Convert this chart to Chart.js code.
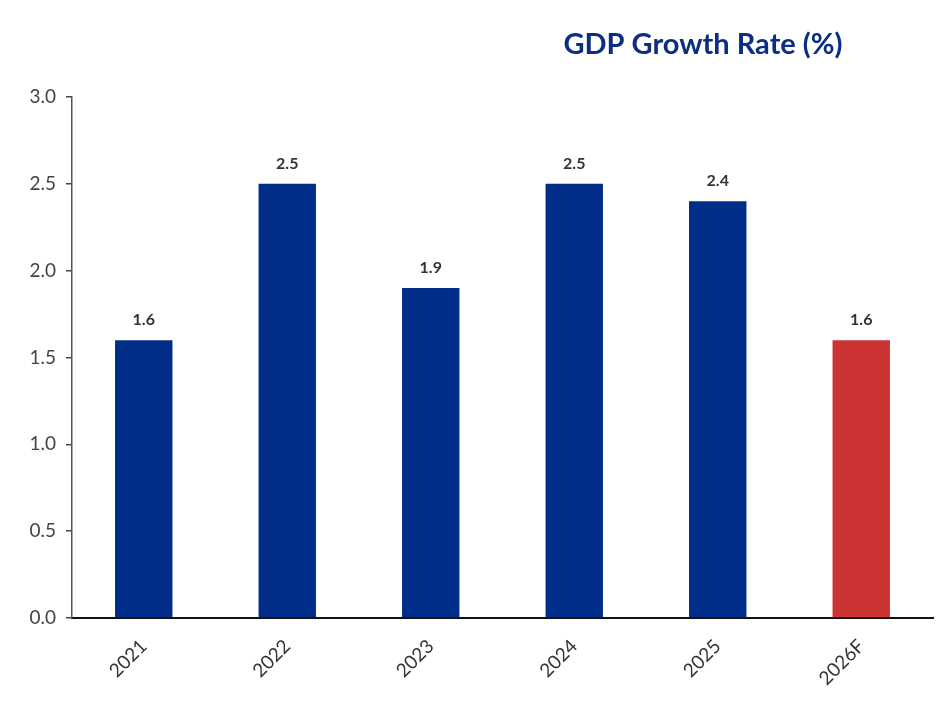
<!DOCTYPE html>
<html>
<head>
<meta charset="utf-8">
<script src="https://cdn.jsdelivr.net/npm/chart.js@4.4.0/dist/chart.umd.min.js"></script>
<style>
html,body{margin:0;padding:0;background:#ffffff;}
#wrap{width:945px;height:701px;position:relative;}
</style>
</head>
<body>
<div id="wrap"><canvas id="c" width="945" height="701"></canvas></div>
<script>
const categories = ["2021", "2022", "2023", "2024", "2025", "2026F"];
const gdpGrowth = [1.6, 2.5, 1.9, 2.5, 2.4, 1.6];
const barColors = ["#002D87", "#002D87", "#002D87", "#002D87", "#002D87", "#CC3333"];
const yTicks = [0, 0.5, 1.0, 1.5, 2.0, 2.5, 3.0];
const chartTitle = "GDP Growth Rate (%)";

const FONT = "Lato, 'DejaVu Sans', sans-serif";

const valueLabels = {
  id: 'valueLabels',
  afterDatasetsDraw(chart) {
    const ctx = chart.ctx;
    const meta = chart.getDatasetMeta(0);
    ctx.save();
    ctx.font = "bold 16px " + FONT;
    ctx.fillStyle = "#333333";
    ctx.textAlign = "center";
    ctx.textBaseline = "middle";
    meta.data.forEach((bar, i) => {
      ctx.fillText(gdpGrowth[i].toFixed(1), bar.x, bar.y - 20);
    });
    ctx.restore();
  }
};

const titlePlugin = {
  id: 'titlePlugin',
  afterDraw(chart) {
    const ctx = chart.ctx;
    const a = chart.chartArea;
    ctx.save();
    ctx.font = "bold 29px " + FONT;
    ctx.fillStyle = "#0B2D83";
    ctx.textAlign = "center";
    ctx.textBaseline = "middle";
    ctx.fillText(chartTitle, 703, 45);
    ctx.restore();
  }
};

new Chart(document.getElementById('c'), {
  type: 'bar',
  data: {
    labels: categories,
    datasets: [{
      data: gdpGrowth,
      backgroundColor: barColors,
      borderWidth: 0,
      barPercentage: 0.4,
      categoryPercentage: 1.0
    }]
  },
  options: {
    responsive: false,
    animation: false,
    layout: { padding: { top: 97, right: 12, left: 0, bottom: 0 } },
    plugins: { legend: { display: false }, tooltip: { enabled: false }, title: { display: false } },
    scales: {
      x: {
        grid: { display: false, drawTicks: false },
        border: { color: "#111111", width: 2 },
        ticks: {
          color: "#333333",
          font: { size: 19, family: FONT },
          minRotation: 45, maxRotation: 45,
          padding: 17
        },
        afterFit(scale) { scale.height = 83; }
      },
      y: {
        min: 0, max: 3,
        afterBuildTicks(scale) { scale.ticks = yTicks.map(v => ({ value: v })); },
        grid: { drawOnChartArea: false, drawTicks: true, tickLength: 6, tickColor: "#444444", lineWidth: 1.5 },
        border: { color: "#555555", width: 1.5 },
        ticks: {
          color: "#444444",
          font: { size: 19, family: FONT },
          padding: 10,
          callback: (v) => Number(v).toFixed(1)
        },
        afterFit(scale) { scale.width = 72; }
      }
    }
  },
  plugins: [valueLabels, titlePlugin]
});
</script>
</body>
</html>
